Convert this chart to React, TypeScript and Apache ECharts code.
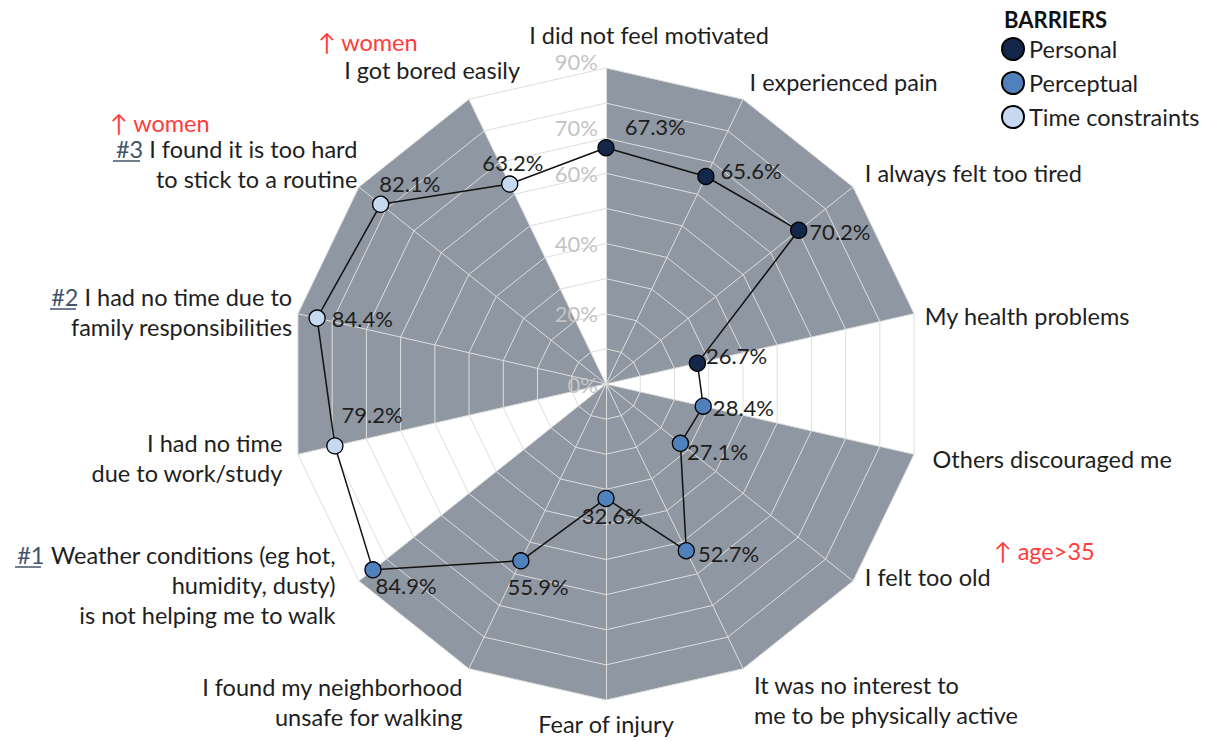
import React, { useEffect, useRef } from 'react';
import * as echarts from 'echarts';

// ---------- data ----------
const categories = [
  'I did not feel motivated',
  'I experienced pain',
  'I always felt too tired',
  'My health problems',
  'Others discouraged me',
  'I felt too old',
  'It was no interest to\nme to be physically active',
  'Fear of injury',
  'I found my neighborhood\nunsafe for walking',
  'Weather conditions (eg hot,\nhumidity, dusty)\nis not helping me to walk',
  'I had no time\ndue to work/study',
  'I had no time due to\nfamily responsibilities',
  'I found it is too hard\nto stick to a routine',
  'I got bored easily',
];
const rankLabels = ['', '', '', '', '', '', '', '', '', '#1', '', '#2', '#3', ''];
const values = [67.3, 65.6, 70.2, 26.7, 28.4, 27.1, 52.7, 32.6, 55.9, 84.9, 79.2, 84.4, 82.1, 63.2];
const barrierGroups = ['Personal', 'Perceptual', 'Time constraints'];
const categoryGroup = [0, 0, 0, 0, 1, 1, 1, 1, 1, 1, 2, 2, 2, 2];
const axisMax = 90;
const shownTicks = [0, 20, 40, 60, 70, 90];
const annotations = ['↑ women', '↑ women', '↑ age>35'];

// ---------- styles ----------
const FONT = 'Lato';
const NAME_SIZE = 23.5;
const CENTER = [606, 384];
const RADIUS = 316;
const groupColors = ['#13274a', '#4f81bd', '#c6d9f1'];
const SHADE = '#8e97a2';
const GRID = '#dedede';
const RED = '#ff3b3b';
const RANK_COLOR = '#44546a';

// name layout per category (natural order)
const nameLayout: any[] = [
  { gap: 14, padding: [0, 0, 0, 86] },
  { gap: 15, padding: [0, 0, 8, 0] },
  { gap: 15, padding: [0, 0, 10, 0] },
  { gap: 11, padding: [9, 0, 0, 0] },
  { gap: 19, padding: [0, 0, 0, 0] },
  { gap: 15, padding: [0, 0, 26, 0] },
  { gap: 25, padding: [18, 0, 0, 0] },
  { gap: 9, padding: [0, 0, 0, 0] },
  { gap: 15, padding: [40, 0, 0, 0] },
  { gap: 30, padding: [0, 0, 29, 0] },
  { gap: 16, padding: [0, 0, 0, 0] },
  { gap: 6, padding: [0, 0, 0, 0] },
  { gap: 2, padding: [0, 0, 44, 0] },
  { gap: 33, padding: [0, 45, 0, 0], align: 'center', lineHeight: 22 },
];
const labelOffsets = [
  [5, -21], [1, -6], [-3, 1], [-5, -8], [-4, 1], [-7, 8], [-2, 3],
  [-38, 17], [-27, 26], [-11, 16], [-7, -31], [1, 0], [-15, -21], [-41, -22],
];
const annotationPos = [[318, 42], [110, 123], [994, 551]];
const underlines = [
  [15, 41, 567],
  [50, 76, 309],
  [113, 140, 161],
];

// radar lays indicators counter-clockwise: reorder to draw clockwise
function toRadarOrder<T>(arr: T[]): T[] {
  return [arr[0], ...arr.slice(1).reverse()];
}

export default function App() {
  const ref = useRef<HTMLDivElement>(null);

  useEffect(() => {
    document.body.style.margin = '0';
    const chart = echarts.init(ref.current!, undefined, { renderer: 'svg' });

    const idx = categories.map((_, i) => i);
    const radarIdx = toRadarOrder(idx);

    const bgIndicators = radarIdx.map((i) => ({ name: categories[i], min: 0, max: axisMax }));
    const mainIndicators = radarIdx.map((i, k) => {
      const lay = nameLayout[i];
      const name = rankLabels[i] ? `{h|${rankLabels[i]}} ${categories[i]}` : categories[i];
      const ind: any = {
        name,
        min: 0,
        max: axisMax,
        nameGap: lay.gap,
        nameTextStyle: { padding: lay.padding },
      };
      if (lay.align) ind.nameTextStyle.align = lay.align;
      if (lay.lineHeight) ind.nameTextStyle.lineHeight = lay.lineHeight;
      if (k === 0) {
        ind.axisLabel = {
          show: true,
          color: '#c4c4c4',
          fontSize: 22,
          fontFamily: FONT,
          lineHeight: 16,
          formatter: (v: number) => {
            const r = Math.round(v);
            if (!shownTicks.includes(r)) return '';
            if (r === 90) return `{a|${r}%}`;
            if (r === 70) return `{b|${r}%}`;
            return `${r}%`;
          },
          rich: {
            a: { padding: [0, 0, 14, 0], lineHeight: 16 },
            b: { padding: [0, 0, 22, 0], lineHeight: 16 },
          },
        };
      }
      return ind;
    });

    const shadeData = barrierGroups.map((g, gi) => ({
      name: g,
      value: radarIdx.map((i) => (categoryGroup[i] === gi ? axisMax : 0)),
    }));

    const scatterSeries = barrierGroups.map((g, gi) => ({
      type: 'scatter',
      name: g,
      coordinateSystem: 'polar',
      polarIndex: 0,
      z: 5,
      symbol: 'circle',
      symbolSize: 16,
      itemStyle: { color: groupColors[gi], borderColor: '#000', borderWidth: 1.3, opacity: 1 },
      label: {
        show: true,
        position: 'right',
        distance: 5,
        color: '#1e1e1e',
        fontSize: 22,
        lineHeight: 18,
        fontFamily: FONT,
        formatter: (p: any) => `${p.value[0].toFixed(1)}%`,
      },
      emphasis: { disabled: true },
      data: idx
        .filter((i) => categoryGroup[i] === gi)
        .map((i) => ({ value: [values[i], i], label: { offset: labelOffsets[i] } })),
    }));

    const option: any = {
      animation: false,
      backgroundColor: '#ffffff',
      textStyle: { fontFamily: FONT },
      title: {
        text: 'BARRIERS',
        left: 999,
        top: 3,
        textStyle: { fontSize: 22, fontWeight: 'bold', fontFamily: FONT, color: '#111' },
      },
      legend: {
        data: barrierGroups,
        orient: 'vertical',
        left: 996,
        top: 32,
        itemWidth: 22,
        itemHeight: 22,
        itemGap: 10,
        icon: 'circle',
        selectedMode: false,
        textStyle: { fontSize: NAME_SIZE, fontFamily: FONT, color: '#1e1e1e', lineHeight: 22 },
      },
      radar: [
        {
          z: 0,
          center: CENTER,
          radius: RADIUS,
          startAngle: 90,
          splitNumber: 9,
          shape: 'polygon',
          indicator: bgIndicators,
          axisName: { show: false },
          axisLine: { show: false },
          axisTick: { show: false },
          axisLabel: { show: false },
          splitLine: { show: false },
          splitArea: { show: false },
        },
        {
          z: 2,
          center: CENTER,
          radius: RADIUS,
          startAngle: 90,
          splitNumber: 9,
          shape: 'polygon',
          indicator: mainIndicators,
          axisName: {
            show: true,
            color: '#1e1e1e',
            fontSize: NAME_SIZE,
            fontFamily: FONT,
            lineHeight: 30,
            rich: {
              h: { color: RANK_COLOR, fontSize: NAME_SIZE, fontFamily: FONT, lineHeight: 30 },
            },
          },
          axisLine: { show: true, lineStyle: { color: GRID, width: 1 } },
          axisTick: { show: false },
          axisLabel: { show: false },
          splitLine: { show: true, lineStyle: { color: GRID, width: 1 } },
          splitArea: { show: false },
        },
      ],
      polar: { center: CENTER, radius: RADIUS },
      angleAxis: { type: 'value', min: 0, max: categories.length, startAngle: 90, clockwise: true, show: false },
      radiusAxis: { type: 'value', min: 0, max: axisMax, show: false },
      series: [
        {
          type: 'radar',
          radarIndex: 0,
          z: 1,
          silent: true,
          symbol: 'none',
          lineStyle: { width: 0, opacity: 0 },
          areaStyle: { color: SHADE, opacity: 1 },
          data: shadeData,
        },
        {
          type: 'radar',
          radarIndex: 1,
          z: 3,
          silent: true,
          symbol: 'none',
          lineStyle: { color: '#111', width: 1.5 },
          data: [{ name: 'Barriers', value: toRadarOrder(values) }],
        },
        ...scatterSeries,
      ],
      graphic: [
        ...annotations.map((t, i) => ({
          type: 'text',
          x: annotationPos[i][0],
          y: annotationPos[i][1],
          style: { text: t, fill: RED, font: `${NAME_SIZE}px ${FONT}`, verticalAlign: 'middle', lineHeight: 20 },
        })),
        ...underlines.map((u) => ({
          type: 'line',
          shape: { x1: u[0], y1: u[2], x2: u[1], y2: u[2] },
          style: { stroke: RANK_COLOR, lineWidth: 1.5 },
        })),
      ],
    };

    chart.setOption(option);
    return () => chart.dispose();
  }, []);

  return <div ref={ref} style={{ position: 'fixed', left: 0, top: 0, width: 1213, height: 741 }} />;
}
